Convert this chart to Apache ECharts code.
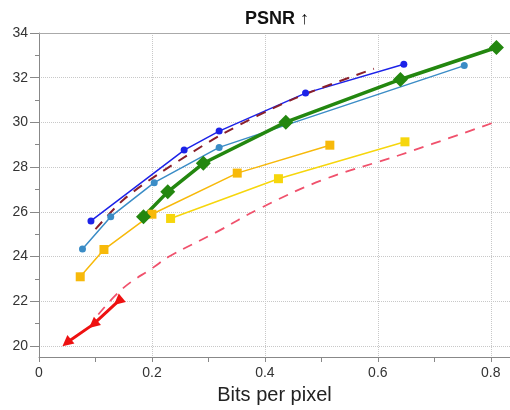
<!DOCTYPE html>
<html>
<head>
<meta charset="utf-8">
<script src="https://cdn.jsdelivr.net/npm/echarts@6/dist/echarts.min.js"></script>
<style>
  html, body { margin: 0; padding: 0; background: #fff; }
  #main { width: 510px; height: 410px; }
</style>
</head>
<body>
<div id="main"></div>
<script>
// values
const blueX = [0.092, 0.257, 0.319, 0.472, 0.646]
const blueY = [25.59, 28.76, 29.61, 31.31, 32.60]
const steelX = [0.077, 0.127, 0.204, 0.319, 0.753]
const steelY = [24.33, 25.78, 27.30, 28.88, 32.54]
const maroonX = [0.100, 0.150, 0.214, 0.326, 0.450, 0.593]
const maroonY = [25.22, 26.55, 27.73, 29.49, 31.04, 32.40]
const greenX = [0.185, 0.228, 0.291, 0.437, 0.640, 0.810]
const greenY = [25.78, 26.89, 28.17, 30.01, 31.92, 33.35]
const orangeX = [0.073, 0.115, 0.200, 0.351, 0.515]
const orangeY = [23.09, 24.31, 25.89, 27.73, 28.98]
const yellowX = [0.233, 0.424, 0.648]
const yellowY = [25.70, 27.48, 29.13]
const pinkX = [0.105, 0.149, 0.202, 0.232, 0.315, 0.391, 0.503, 0.639, 0.815]
const pinkY = [21.40, 22.58, 23.50, 24.02, 25.10, 26.15, 27.43, 28.54, 30.08]
const redX = [0.049, 0.096, 0.140]
const redY = [20.14, 20.96, 21.99]

const yLabels = [20, 22, 24, 26, 28, 30, 32, 34]
const yMinor = [21, 23, 25, 27, 29, 31, 33]

const zip = (xs, ys) => xs.map((x, i) => [x, ys[i]])

const font = 'Liberation Sans'
const chart = echarts.init(document.getElementById('main'))

function lineSeries(name, xs, ys, color, width, extra) {
  return Object.assign({
    name,
    type: 'line',
    data: zip(xs, ys),
    symbol: 'none',
    lineStyle: { color, width },
    itemStyle: { color },
    animation: false
  }, extra)
}

const option = {
  animation: false,
  title: {
    text: 'PSNR ↑',
    left: 240,
    top: 5,
    textStyle: { fontFamily: font, fontSize: 18, fontWeight: 'bold', color: '#111' }
  },
  grid: { left: 39, right: 0, top: 33, bottom: 49 },
  xAxis: [{
    type: 'value',
    min: 0,
    max: 0.834,
    interval: 0.2,
    name: 'Bits per pixel',
    nameLocation: 'middle',
    nameGap: 28,
    nameTextStyle: { fontFamily: font, fontSize: 20, color: '#222' },
    axisLine: { lineStyle: { color: '#888' } },
    axisTick: { length: 5, lineStyle: { color: '#888' } },
    minorTick: { show: true, splitNumber: 2, length: 5, lineStyle: { color: '#888' } },
    axisLabel: {
      fontFamily: font, fontSize: 14, color: '#333', margin: 9, showMaxLabel: false,
      formatter: v => (Math.abs(v / 0.2 - Math.round(v / 0.2)) < 1e-6 ? String(+v.toFixed(1)) : '')
    },
    splitLine: { show: true, lineStyle: { color: '#c8c8c8', type: 'dotted' } }
  }, {
    type: 'value',
    position: 'top',
    min: 0,
    max: 0.834,
    axisLine: { show: true, lineStyle: { color: '#aaa' } },
    axisTick: { show: false },
    axisLabel: { show: false },
    splitLine: { show: false }
  }],
  yAxis: [{
    type: 'value',
    min: 19.5,
    max: 34,
    axisLine: { show: true, lineStyle: { color: '#888' } },
    axisTick: { show: true, length: 9, customValues: yLabels, lineStyle: { color: '#888' } },
    axisLabel: { fontFamily: font, fontSize: 14, color: '#333', margin: 11, customValues: yLabels },
    splitLine: { show: true, lineStyle: { color: '#c8c8c8', type: 'dotted' } }
  }, {
    type: 'value',
    position: 'left',
    min: 19.5,
    max: 34,
    axisLine: { show: false },
    axisTick: { show: true, length: 4, customValues: yMinor, lineStyle: { color: '#888' } },
    axisLabel: { show: false },
    splitLine: { show: false }
  }],
  series: [
    lineSeries('steel', steelX, steelY, '#3a8cc6', 1.5, { symbol: 'circle', symbolSize: 7 }),
    lineSeries('blue', blueX, blueY, '#1c22e8', 1.5, { symbol: 'circle', symbolSize: 7 }),
    lineSeries('maroon', maroonX, maroonY, '#8a1f2a', 2, { smooth: 0.3, lineStyle: { color: '#8a1f2a', width: 2, type: [10, 8] } }),
    lineSeries('yellow', yellowX, yellowY, '#f6d60c', 1.5, { symbol: 'rect', symbolSize: 9 }),
    lineSeries('orange', orangeX, orangeY, '#f7b90a', 1.5, { symbol: 'rect', symbolSize: 9 }),
    lineSeries('pink', pinkX, pinkY, '#f0516c', 1.8, { smooth: 0.4, lineStyle: { color: '#f0516c', width: 1.8, type: [10, 8] } }),
    lineSeries('green', greenX, greenY, '#23870f', 3.5, { symbol: 'diamond', symbolSize: 15 }),
    lineSeries('red', redX, redY, '#ee1111', 3, { symbol: 'triangle', symbolSize: 11, symbolRotate: 130 })
  ]
}

chart.setOption(option)
</script>
</body>
</html>
